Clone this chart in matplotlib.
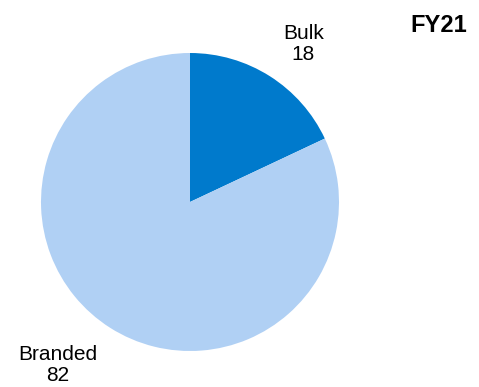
import matplotlib.pyplot as plt

# Revenue split, FY21 (%)
segments = ['Bulk', 'Branded']
shares = [18, 82]
colors = ['#007ACC', '#B0D0F4']

plt.rcParams['font.family'] = ['Liberation Sans', 'DejaVu Sans']

fig = plt.figure(figsize=(4.79, 3.87), dpi=100)
ax = fig.add_axes([41 / 479, 36 / 387, 298 / 479, 298 / 387])

ax.pie(shares, colors=colors, startangle=90, counterclock=False,
       radius=1.0, wedgeprops={'linewidth': 0})
ax.set_xlim(-1, 1)
ax.set_ylim(-1, 1)
ax.set_aspect('equal')

# segment labels, placed by hand outside the pie
label_pos = {'Bulk': (0.76, 1.06), 'Branded': (-0.89, -1.095)}
for name, val in zip(segments, shares):
    x, y = label_pos[name]
    ax.text(x, y, f'{name}\n{val}', ha='center', va='center',
            fontsize=15, linespacing=1.17, clip_on=False)

fig.text(438.5 / 479, 1 - 25 / 387, 'FY21', ha='center', va='center',
         fontsize=17, fontweight='bold')

fig.savefig('out.png', dpi=100)
